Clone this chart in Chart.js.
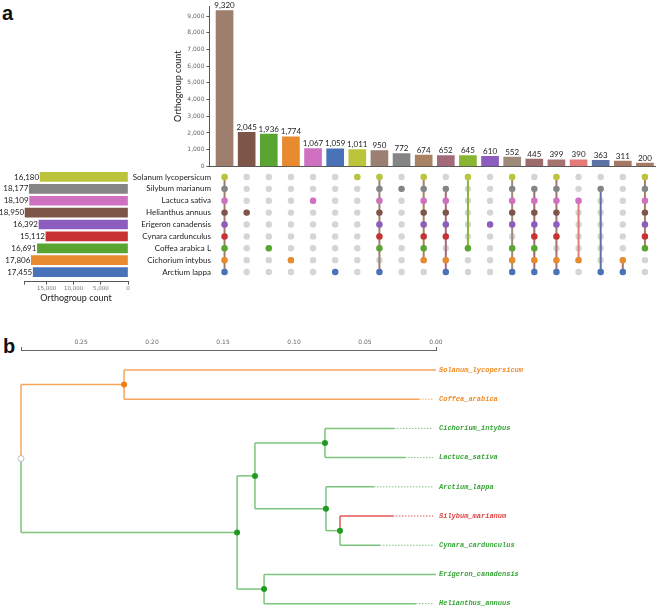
<!DOCTYPE html>
<html>
<head>
<meta charset="utf-8">
<script src="https://cdn.jsdelivr.net/npm/chart.js@4.4.1/dist/chart.umd.min.js"></script>
<style>
  html, body { margin: 0; padding: 0; background: #fff; overflow: hidden; }
  body { width: 660px; height: 613px; position: relative; }
  canvas { position: absolute; }
  .panel { position: absolute; font: bold 20px "Liberation Sans", Arial, sans-serif; line-height: 20px; color: #111; }
</style>
</head>
<body>
<div class="panel" style="left:2px; top:3px">a</div>
<div class="panel" style="left:3px; top:336px">b</div>
<canvas id="set-size-chart" width="130" height="132" style="left:0; top:171px"></canvas>
<canvas id="matrix-chart" width="556" height="107" style="left:100px; top:171px"></canvas>
<canvas id="intersection-chart" width="506" height="172" style="left:150px; top:0"></canvas>
<canvas id="tree-chart" width="660" height="293" style="left:0; top:320px"></canvas>
<script>
// ==============================
// DATA (panel a)
// ==============================
const setNames = ['Solanum lycopersicum', 'Silybum marianum', 'Lactuca sativa', 'Helianthus annuus',
    'Erigeron canadensis', 'Cynara cardunculus', 'Coffea arabica L', 'Cichorium intybus', 'Arctium lappa'];
const setSizes = [16180, 18177, 18109, 18950, 16392, 15112, 16691, 17806, 17455];
const setColors = ['#bcc43c', '#858585', '#d070c0', '#7d5649', '#8c5cbf', '#c83232', '#5aa532', '#e88a2e', '#4a72b8'];

const intersectionCounts = [9320, 2045, 1936, 1774, 1067, 1059, 1011, 950, 772, 674,
    652, 645, 610, 552, 445, 399, 390, 363, 311, 200];
// which sets (row index into setNames) belong to each intersection column
const intersectionSets = [
    [0, 1, 2, 3, 4, 5, 6, 7, 8],
    [3], [6], [7], [2], [8], [0],
    [0, 1, 2, 3, 4, 5, 6, 8],
    [1],
    [0, 1, 2, 3, 4, 5, 6, 7],
    [1, 2, 3, 4, 5, 7, 8],
    [0, 6],
    [4],
    [0, 1, 2, 3, 4, 6, 7, 8],
    [1, 2, 3, 4, 5, 6, 7, 8],
    [0, 1, 2, 3, 4, 5, 7, 8],
    [2, 7],
    [1, 8],
    [7, 8],
    [0, 1, 2, 3, 4, 5, 6]
];
const intersectionColors = ['#9e7e6c', '#7d5649', '#5aa532', '#e88a2e', '#d070c0', '#4a72b8', '#bcc43c',
    '#9a7f72', '#858585', '#a88262', '#a36a7a', '#8ab534', '#8c5cbf', '#9e8a78', '#9c6c6c', '#a67370',
    '#e47a7a', '#5e73a5', '#a47866', '#a87c64'];
const countTicks = [0, 1000, 2000, 3000, 4000, 5000, 6000, 7000, 8000, 9000];
const sizeTicks = [0, 5000, 10000, 15000];

// ==============================
// DATA (panel b, tree)
// ==============================
const leafNames = ['Solanum_lycopersicum', 'Coffea_arabica', 'Cichorium_intybus', 'Lactuca_sativa',
    'Arctium_lappa', 'Silybum_marianum', 'Cynara_cardunculus', 'Erigeron_canadensis', 'Helianthus_annuus'];
const leafTipDepth = [0, 0.012, 0.0296, 0.0218, 0.0437, 0.0303, 0.0394, 0, 0.0141];
const leafGroups = ['sol', 'sol', 'ast', 'ast', 'ast', 'sil', 'ast', 'ast', 'ast'];
const nodeIds = ['root', 'n1', 'n2', 'n3', 'n4', 'n5', 'n6', 'n7'];
const nodeDepth = [0.2923, 0.2197, 0.1401, 0.1275, 0.0782, 0.0775, 0.0676, 0.1211];
const nodeChildren = [['n1', 'n2'], [0, 1], ['n3', 'n7'], ['n4', 'n5'], [2, 3], [4, 'n6'], [5, 6], [7, 8]];
const nodeGroups = ['root', 'sol', 'ast', 'ast', 'ast', 'ast', 'ast', 'ast'];
const distTicks = [0, 0.05, 0.10, 0.15, 0.20, 0.25];

const lineColors = { sol: '#f5a65a', ast: '#7cc47c', sil: '#e25555' };
const textColors = { sol: '#f08c2a', ast: '#38a638', sil: '#e04444' };
const dotColors = { sol: '#f07f1a', ast: '#229a22' };

Chart.defaults.font.family = 'Lato, "Noto Sans", sans-serif';
Chart.defaults.animation = false;
Chart.defaults.plugins.legend.display = false;
Chart.defaults.plugins.tooltip.enabled = false;

const fmt = v => v.toLocaleString('en-US');

// ==============================
// INTERSECTION BARS
// ==============================
new Chart(document.getElementById('intersection-chart'), {
    type: 'bar',
    data: {
        datasets: [{
            data: intersectionCounts.map((v, i) => ({ x: i, y: v })),
            backgroundColor: intersectionColors,
            barThickness: 17
        }]
    },
    options: {
        responsive: false,
        layout: { autoPadding: false, padding: { top: 6, right: 0, bottom: 0, left: 0 } },
        scales: {
            x: {
                type: 'linear', min: -0.68, max: 19.5, offset: false,
                ticks: { display: false },
                grid: { display: false, drawTicks: false },
                border: { color: '#555' },
                afterFit: s => { s.height = 4; }
            },
            y: {
                min: 0, max: 9600,
                afterBuildTicks: s => { s.ticks = countTicks.map(v => ({ value: v })); },
                afterFit: s => { s.width = 59.5; },
                ticks: { callback: v => fmt(v), font: { size: 6, family: '"DejaVu Sans", sans-serif' }, color: '#666', padding: 2, autoSkip: false },
                grid: { drawOnChartArea: false, tickLength: 3, color: '#555' },
                border: { color: '#555' },
                title: { display: true, text: 'Orthogroup count', font: { size: 9 }, color: '#222', padding: { top: 23 } }
            }
        }
    },
    plugins: [{
        id: 'barValues',
        afterDatasetsDraw(chart) {
            const ctx = chart.ctx;
            ctx.save();
            ctx.font = '8px Lato, "Noto Sans", sans-serif';
            ctx.fillStyle = '#222';
            ctx.textAlign = 'center';
            ctx.textBaseline = 'bottom';
            chart.getDatasetMeta(0).data.forEach((bar, i) => {
                ctx.fillText(fmt(intersectionCounts[i]), bar.x, bar.y - 1);
            });
            ctx.restore();
        }
    }]
});

// ==============================
// MATRIX
// ==============================
const allCells = [];
intersectionCounts.forEach((c, col) => setNames.forEach((n, row) => allCells.push({ x: col, y: row })));

const activeCells = [];
const activeColors = [];
intersectionSets.forEach((rows, col) => rows.forEach(r => {
    activeCells.push({ x: col, y: r });
    activeColors.push(setColors[r]);
}));

const connectors = [];
intersectionSets.forEach((rows, col) => {
    if (rows.length < 2) return;
    connectors.push({
        data: [{ x: col, y: Math.min(...rows) }, { x: col, y: Math.max(...rows) }],
        showLine: true, borderColor: intersectionColors[col], borderWidth: 2,
        pointRadius: 0, order: 1
    });
});

new Chart(document.getElementById('matrix-chart'), {
    type: 'scatter',
    data: {
        datasets: [
            { data: activeCells, pointBackgroundColor: activeColors, pointRadius: 3.2, pointBorderWidth: 0, order: 0, clip: false },
            ...connectors,
            { data: allCells, pointBackgroundColor: '#d5d5d5', pointRadius: 3.2, pointBorderWidth: 0, order: 2, clip: false }
        ]
    },
    options: {
        responsive: false,
        layout: { autoPadding: false, padding: { left: 109.5, top: 0, right: 0, bottom: 0 } },
        scales: {
            x: { type: 'linear', min: -0.68, max: 19.5, display: false },
            y: { type: 'linear', min: -0.5, max: 8.5, reverse: true, display: false }
        }
    },
    plugins: [{
        id: 'rowLabels',
        afterDraw(chart) {
            const { ctx, chartArea, scales: { y } } = chart;
            ctx.save();
            ctx.font = '8px Lato, "Noto Sans", sans-serif';
            ctx.fillStyle = '#222';
            ctx.textAlign = 'right';
            ctx.textBaseline = 'middle';
            setNames.forEach((n, i) => ctx.fillText(n, chartArea.left + 1.5, y.getPixelForValue(i)));
            ctx.restore();
        }
    }]
});

// ==============================
// SET SIZE BARS
// ==============================
new Chart(document.getElementById('set-size-chart'), {
    type: 'bar',
    data: {
        datasets: [{
            data: setSizes.map((v, i) => ({ x: v, y: i })),
            backgroundColor: setColors,
            barThickness: 9
        }]
    },
    options: {
        responsive: false,
        indexAxis: 'y',
        layout: { autoPadding: false, padding: { left: 24, right: 2, top: 0, bottom: 0 } },
        scales: {
            x: {
                type: 'linear', min: 0, max: 19150, reverse: true,
                afterBuildTicks: s => { s.ticks = sizeTicks.concat([19150]).map(v => ({ value: v })); },
                afterFit: s => { s.height = 21.4; },
                ticks: {
                    callback: v => sizeTicks.includes(v) ? fmt(v) : '',
                    font: { size: 5.5, family: '"DejaVu Sans", sans-serif' }, color: '#777',
                    padding: 1, maxRotation: 0, autoSkip: false
                },
                grid: { drawOnChartArea: false, tickLength: 3, color: '#555' },
                border: { color: '#555' },
                title: { display: true, text: 'Orthogroup count', font: { size: 9 }, color: '#222', padding: 0 }
            },
            y: { type: 'linear', min: -0.5, max: 8.8, reverse: true, offset: false, display: false }
        }
    },
    plugins: [{
        id: 'sizeValues',
        afterDatasetsDraw(chart) {
            const ctx = chart.ctx;
            ctx.save();
            ctx.font = '8px Lato, "Noto Sans", sans-serif';
            ctx.fillStyle = '#222';
            ctx.textAlign = 'right';
            ctx.textBaseline = 'middle';
            chart.getDatasetMeta(0).data.forEach((bar, i) => {
                ctx.fillText(fmt(setSizes[i]), bar.x - 1, bar.y);
            });
            ctx.restore();
        }
    }]
});

// ==============================
// TREE
// ==============================
function refY(ref) {
    if (typeof ref === 'number') return ref;
    const kids = nodeChildren[nodeIds.indexOf(ref)];
    return (refY(kids[0]) + refY(kids[1])) / 2;
}
function refDepth(ref) {
    return typeof ref === 'number' ? leafTipDepth[ref] : nodeDepth[nodeIds.indexOf(ref)];
}
function refGroup(ref) {
    return typeof ref === 'number' ? leafGroups[ref] : nodeGroups[nodeIds.indexOf(ref)];
}

const treeSegments = [];
nodeIds.forEach((id, i) => {
    const x = nodeDepth[i];
    const y = refY(id);
    nodeChildren[i].forEach(kid => {
        const ky = refY(kid);
        const color = lineColors[refGroup(kid)];
        treeSegments.push({ data: [{ x: x, y: y }, { x: x, y: ky }], color: color });
        treeSegments.push({ data: [{ x: x, y: ky }, { x: refDepth(kid), y: ky }], color: color });
    });
});
const dottedSegments = [];
leafNames.forEach((n, i) => {
    if (leafTipDepth[i] > 0) {
        dottedSegments.push({ data: [{ x: leafTipDepth[i], y: i }, { x: 0.002, y: i }], color: lineColors[leafGroups[i]] });
    }
});

const innerNodes = nodeIds.slice(1).map(id => ({ x: refDepth(id), y: refY(id) }));
const innerColors = nodeGroups.slice(1).map(g => dotColors[g]);

new Chart(document.getElementById('tree-chart'), {
    type: 'scatter',
    data: {
        datasets: [
            { data: [{ x: nodeDepth[0], y: refY('root') }], pointRadius: 3, pointBackgroundColor: '#fff', pointBorderColor: '#bbb', pointBorderWidth: 1, order: 0, clip: false },
            { data: innerNodes, pointRadius: 3, pointBackgroundColor: innerColors, pointBorderWidth: 0, order: 0, clip: false },
            ...treeSegments.map(s => ({ data: s.data, showLine: true, borderColor: s.color, borderWidth: 1.5, pointRadius: 0, order: 1, clip: false })),
            ...dottedSegments.map(s => ({ data: s.data, showLine: true, borderColor: s.color, borderWidth: 1, borderDash: [1.5, 1.5], pointRadius: 0, order: 2, clip: false }))
        ]
    },
    options: {
        responsive: false,
        layout: { autoPadding: false, padding: { left: 21, right: 224, top: 0, bottom: 0 } },
        scales: {
            x: {
                type: 'linear', position: 'top', reverse: true, min: 0, max: nodeDepth[0],
                afterBuildTicks: s => { s.ticks = distTicks.concat([nodeDepth[0]]).map(v => ({ value: v })); },
                afterFit: s => { s.height = 30; },
                ticks: {
                    callback: v => distTicks.includes(v) ? v.toFixed(2) : '',
                    font: { size: 6, family: '"DejaVu Sans", sans-serif' }, color: '#666',
                    padding: 1, maxRotation: 0, autoSkip: false
                },
                grid: {
                    drawOnChartArea: false, tickLength: 3,
                    color: c => (c.tick && (c.tick.value === 0 || c.tick.value === nodeDepth[0])) ? '#666' : 'rgba(0,0,0,0)'
                },
                border: { color: '#666' }
            },
            y: { type: 'linear', min: -0.685, max: 8.32, reverse: true, display: false }
        }
    },
    plugins: [{
        id: 'leafLabels',
        afterDraw(chart) {
            const { ctx, scales: { x, y } } = chart;
            ctx.save();
            ctx.font = 'italic bold 7px "Liberation Mono", "DejaVu Sans Mono", monospace';
            ctx.textBaseline = 'middle';
            leafNames.forEach((n, i) => {
                ctx.fillStyle = textColors[leafGroups[i]];
                ctx.fillText(n, x.getPixelForValue(0) + 3, y.getPixelForValue(i));
            });
            ctx.restore();
        }
    }]
});
</script>
</body>
</html>
